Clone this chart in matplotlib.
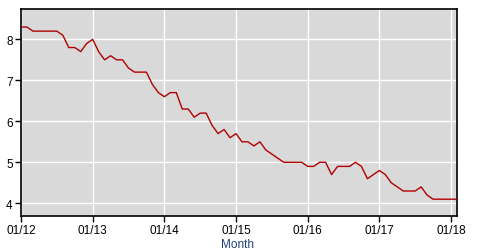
import matplotlib
matplotlib.use("Agg")
import matplotlib.pyplot as plt

# Monthly values Jan 2012 .. Feb 2018
values = [
    8.3, 8.3, 8.2, 8.2, 8.2, 8.2, 8.2, 8.1, 7.8, 7.8, 7.7, 7.9,   # 2012
    8.0, 7.7, 7.5, 7.6, 7.5, 7.5, 7.3, 7.2, 7.2, 7.2, 6.9, 6.7,   # 2013
    6.6, 6.7, 6.7, 6.3, 6.3, 6.1, 6.2, 6.2, 5.9, 5.7, 5.8, 5.6,   # 2014
    5.7, 5.5, 5.5, 5.4, 5.5, 5.3, 5.2, 5.1, 5.0, 5.0, 5.0, 5.0,   # 2015
    4.9, 4.9, 5.0, 5.0, 4.7, 4.9, 4.9, 4.9, 5.0, 4.9, 4.6, 4.7,   # 2016
    4.8, 4.7, 4.5, 4.4, 4.3, 4.3, 4.3, 4.4, 4.2, 4.1, 4.1, 4.1,   # 2017
    4.1, 4.1,                                                     # 2018
]
months = list(range(len(values)))
xtick_labels = ["01/12", "01/13", "01/14", "01/15", "01/16", "01/17", "01/18"]
ytick_vals = [4, 5, 6, 7, 8]

plt.rcParams['font.family'] = ['Liberation Sans', 'DejaVu Sans']

fig = plt.figure(figsize=(4.88, 2.51), dpi=100)
ax = fig.add_axes([21/488, 1-217/251, (457-21)/488, (217-10)/251])
ax.set_facecolor('#d9d9d9')
ax.plot(months, values, color='#b00000', lw=1.0, zorder=3)

ax.set_xlim(0, len(values) - 1)
ax.set_ylim(3.69, 8.74)
ax.set_xticks([12 * i for i in range(len(xtick_labels))])
ax.set_xticklabels(xtick_labels, fontsize=8.5)
ax.set_yticks(ytick_vals)
ax.set_yticklabels([str(v) for v in ytick_vals], fontsize=8.5)
ax.grid(True, color='white', lw=1.0, zorder=1)
ax.set_axisbelow(True)
ax.tick_params(axis='both', direction='out', length=4, width=1, color='black', pad=2)
for s in ax.spines.values():
    s.set_color('black')
    s.set_linewidth(1.2)

fig.text(238/488, 0.0, "Month", color='#1f3f7f', fontsize=8.5, ha='center', va='bottom')

fig.savefig("out.png", dpi=100)
